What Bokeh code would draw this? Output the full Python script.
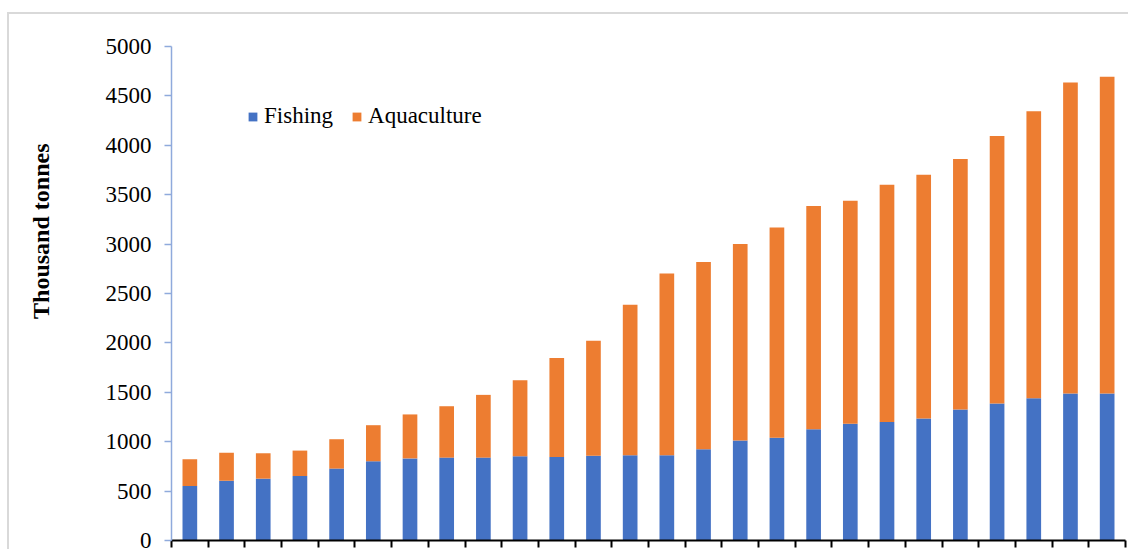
from bokeh.plotting import figure
from bokeh.models import (FixedTicker, CustomJSTickFormatter, Legend, LegendItem, Range1d,
                          Title, LinearAxis)
from bokeh.embed import file_html
from bokeh.resources import INLINE

# ---- data (thousand tonnes) ----
periods = list(range(1, 27))
fishing = [552, 606, 626, 653, 728, 802, 831, 839, 839, 853, 845, 858, 864,
           863, 924, 1013, 1040, 1126, 1182, 1200, 1234, 1327, 1386, 1440, 1487, 1487]
aquaculture = [271, 283, 257, 257, 297, 365, 445, 520, 635, 770, 1001, 1163, 1522,
               1840, 1894, 1987, 2129, 2259, 2257, 2401, 2469, 2535, 2709, 2904, 3148, 3208]
series = ["Fishing", "Aquaculture"]
colors = ["#4472C4", "#ED7D31"]
y_ticks = [0, 500, 1000, 1500, 2000, 2500, 3000, 3500, 4000, 4500, 5000]
y_title = "Thousand tonnes"

FONT = "Liberation Serif"

p = figure(width=1121, height=537, output_backend="svg", toolbar_location=None,
           x_range=Range1d(0.5, len(periods) + 0.5), y_range=Range1d(0, 5000),
           min_border_left=162, min_border_right=5, min_border_top=32, min_border_bottom=11)
p.margin = (12, 0, 0, 7)
p.styles = {"border-top": "2px solid #d9d9d9", "border-left": "2px solid #d9d9d9"}
p.outline_line_color = None
p.grid.visible = False
p.background_fill_color = "white"
p.border_fill_color = "white"

src = dict(x=periods, Fishing=fishing, Aquaculture=aquaculture)
renderers = p.vbar_stack(series, x="x", width=0.4, color=colors, line_color=None, source=src)

# y axis
ya = p.yaxis[0]
ya.ticker = FixedTicker(ticks=y_ticks)
ya.axis_line_color = "#8FAADC"
ya.axis_line_width = 1.5
ya.major_tick_line_color = "#8FAADC"
ya.major_tick_line_width = 1.5
ya.major_tick_out = 7
ya.major_tick_in = 0
ya.minor_tick_line_color = None
ya.major_label_text_font = FONT
ya.major_label_text_font_size = "23px"
ya.major_label_text_color = "black"
ya.major_label_standoff = 13

# invisible spacer axis between the tick labels and the axis title
spacer = LinearAxis(ticker=FixedTicker(ticks=[y_ticks[0]]),
                    formatter=CustomJSTickFormatter(code="return ''"),
                    axis_line_color=None, major_tick_line_color=None, minor_tick_line_color=None,
                    major_tick_out=34, major_tick_in=0, minor_tick_out=0,
                    major_label_standoff=0, major_label_text_font_size="0px")
p.add_layout(spacer, "left")

# x axis (no visible labels in the reference)
xa = p.xaxis[0]
xa.ticker = FixedTicker(ticks=[i + 0.5 for i in range(0, len(periods) + 1)])
xa.formatter = CustomJSTickFormatter(code="return ''")
xa.major_label_text_font_size = "0px"
xa.major_label_standoff = 0
xa.axis_line_color = "black"
xa.axis_line_width = 2
xa.major_tick_line_color = "black"
xa.major_tick_line_width = 2
xa.major_tick_out = 7
xa.major_tick_in = 0
xa.minor_tick_line_color = None

# y axis title (placed in a left side panel)
p.add_layout(Title(text=y_title, align="right", offset=97, vertical_align="bottom",
                   standoff=30, text_font=FONT, text_font_size="24px",
                   text_font_style="bold", text_color="black"), "left")

legend = Legend(items=[LegendItem(label=s, renderers=[r]) for s, r in zip(series, renderers)],
                orientation="horizontal", location=(76, 411))
legend.border_line_color = None
legend.background_fill_alpha = 0
legend.padding = 0
legend.margin = 0
legend.spacing = 18
legend.glyph_width = 11
legend.glyph_height = 11
legend.label_standoff = 6
legend.label_height = 24
legend.label_text_font = FONT
legend.label_text_font_size = "23px"
legend.label_text_color = "black"
p.add_layout(legend)

open("out.html", "w").write(file_html(p, INLINE))
